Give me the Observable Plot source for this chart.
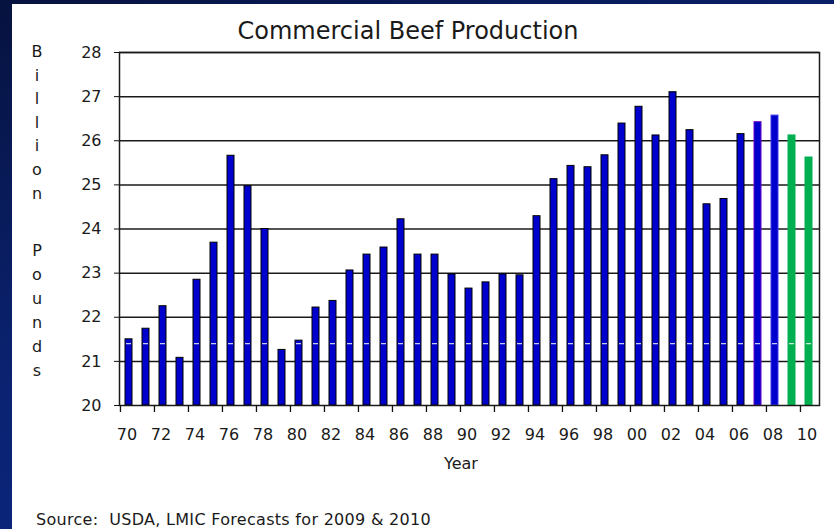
<!DOCTYPE html>
<html>
<head>
<meta charset="utf-8">
<script src="https://cdn.jsdelivr.net/npm/d3@7"></script>
<script src="https://cdn.jsdelivr.net/npm/@observablehq/plot@0.6"></script>
<style>
  html, body { margin: 0; padding: 0; }
  body {
    width: 834px; height: 529px; overflow: hidden; position: relative;
    background: linear-gradient(160deg, #06123f 0%, #0a2270 45%, #0c2a8a 100%);
    font-family: "DejaVu Sans", Verdana, sans-serif;
  }
  #panel {
    position: absolute; left: 12px; top: 4px; width: 822px; height: 525px;
    background: #ffffff;
  }
  #panel svg { display: block; }
</style>
</head>
<body>
<div id="panel"></div>
<script>
// ---- data ----
const years = [1970,1971,1972,1973,1974,1975,1976,1977,1978,1979,
               1980,1981,1982,1983,1984,1985,1986,1987,1988,1989,
               1990,1991,1992,1993,1994,1995,1996,1997,1998,1999,
               2000,2001,2002,2003,2004,2005,2006,2007,2008,2009,2010];
const production = [21.50,21.74,22.25,21.08,22.85,23.69,25.66,24.97,24.00,21.26,
                    21.47,22.22,22.37,23.06,23.42,23.58,24.22,23.42,23.42,22.97,
                    22.65,22.79,22.97,22.95,24.29,25.13,25.43,25.40,25.67,26.39,
                    26.77,26.12,27.10,26.24,24.56,24.68,26.15,26.42,26.57,26.12,25.62];
const kinds = ["actual","actual","actual","actual","actual","actual","actual","actual","actual","actual",
               "actual","actual","actual","actual","actual","actual","actual","actual","actual","actual",
               "actual","actual","actual","actual","actual","actual","actual","actual","actual","actual",
               "actual","actual","actual","actual","actual","actual","actual","preliminary","estimate","forecast","forecast"];
const yTicks = [20,21,22,23,24,25,26,27,28];
const labelYears = [1970,1972,1974,1976,1978,1980,1982,1984,1986,1988,1990,
                    1992,1994,1996,1998,2000,2002,2004,2006,2008,2010];
const dashLevel = 21.4;
const titleText = "Commercial Beef Production";
const yTitleWords = ["Billion", "Pounds"];
const xTitle = "Year";
const sourceText = "Source:  USDA, LMIC Forecasts for 2009 & 2010";

const data = years.map((year, i) => ({year, value: production[i], kind: kinds[i]}));

// ---- layout ----
const W = 822, H = 525;
const mL = 107, mR = 15, mT = 48, mB = 124;
const step = (W - mL - mR) / years.length;

const fillOf = {actual: "#0000CC", preliminary: "#0000CC", estimate: "#0000CC", forecast: "#00B050"};
const strokeOf = {actual: "#000000", preliminary: "#6A00C8", estimate: "#3A3AF0", forecast: "#00B050"};

const chart = Plot.plot({
  width: W, height: H,
  marginLeft: mL, marginRight: mR, marginTop: mT, marginBottom: mB,
  style: {fontFamily: "'DejaVu Sans', Verdana, sans-serif", fontSize: "16px", color: "#1a1a1a", background: "transparent"},
  x: {type: "band", domain: years, paddingInner: 0.56, paddingOuter: 0.28, align: 0.5, axis: null},
  y: {domain: [20, 28], axis: null},
  marks: [
    Plot.ruleY(yTicks.filter(v => v > 20), {stroke: "#1a1a1a", strokeWidth: 1.5}),
    Plot.barY(data, {
      x: "year", y1: () => yTicks[0], y2: "value",
      fill: d => fillOf[d.kind], stroke: d => strokeOf[d.kind], strokeWidth: 1
    }),
    Plot.tickY(data, {x: "year", y: () => dashLevel, stroke: "white", strokeWidth: 1, inset: 1}),
    Plot.frame({stroke: "#1a1a1a", strokeWidth: 1.5}),
    Plot.axisY({ticks: yTicks, tickSize: 5, tickPadding: 13, fontSize: 16, label: null, stroke: "#111"}),
    Plot.axisX({ticks: labelYears, tickSize: 0, tickPadding: 23, fontSize: 16, label: null, dx: -2,
                tickFormat: d => String(d).slice(2)}),
    Plot.ruleX(labelYears, {x: d => d, y1: () => yTicks[0], y2: () => yTicks[0], insetBottom: -7,
                            dx: -step / 2, stroke: "#111", strokeWidth: 1.3})
  ]
});

document.getElementById("panel").appendChild(chart);

// ---- titles (real text) ----
const svg = d3.select(chart);
const font = "'DejaVu Sans', Verdana, sans-serif";
svg.append("text").text(titleText)
  .attr("x", 396).attr("y", 35).attr("text-anchor", "middle")
  .attr("font-family", font).attr("font-size", 24).attr("fill", "#1a1a1a");

const yLetterStarts = [53, 252];
const yLetterSteps = [23.6, 24];
yTitleWords.forEach((word, w) => {
  Array.from(word).forEach((ch, i) => {
    svg.append("text").text(ch)
      .attr("x", 25).attr("y", yLetterStarts[w] + i * yLetterSteps[w])
      .attr("text-anchor", "middle")
      .attr("font-family", font).attr("font-size", 16).attr("fill", "#1a1a1a");
  });
});

svg.append("text").text(xTitle)
  .attr("x", 449).attr("y", 465).attr("text-anchor", "middle")
  .attr("font-family", font).attr("font-size", 16).attr("fill", "#1a1a1a");

svg.append("text").text(sourceText)
  .attr("x", 24).attr("y", 521).attr("text-anchor", "start")
  .style("white-space", "pre").style("letter-spacing", "0.3px")
  .attr("font-family", font).attr("font-size", 16).attr("fill", "#1a1a1a");
</script>
</body>
</html>
